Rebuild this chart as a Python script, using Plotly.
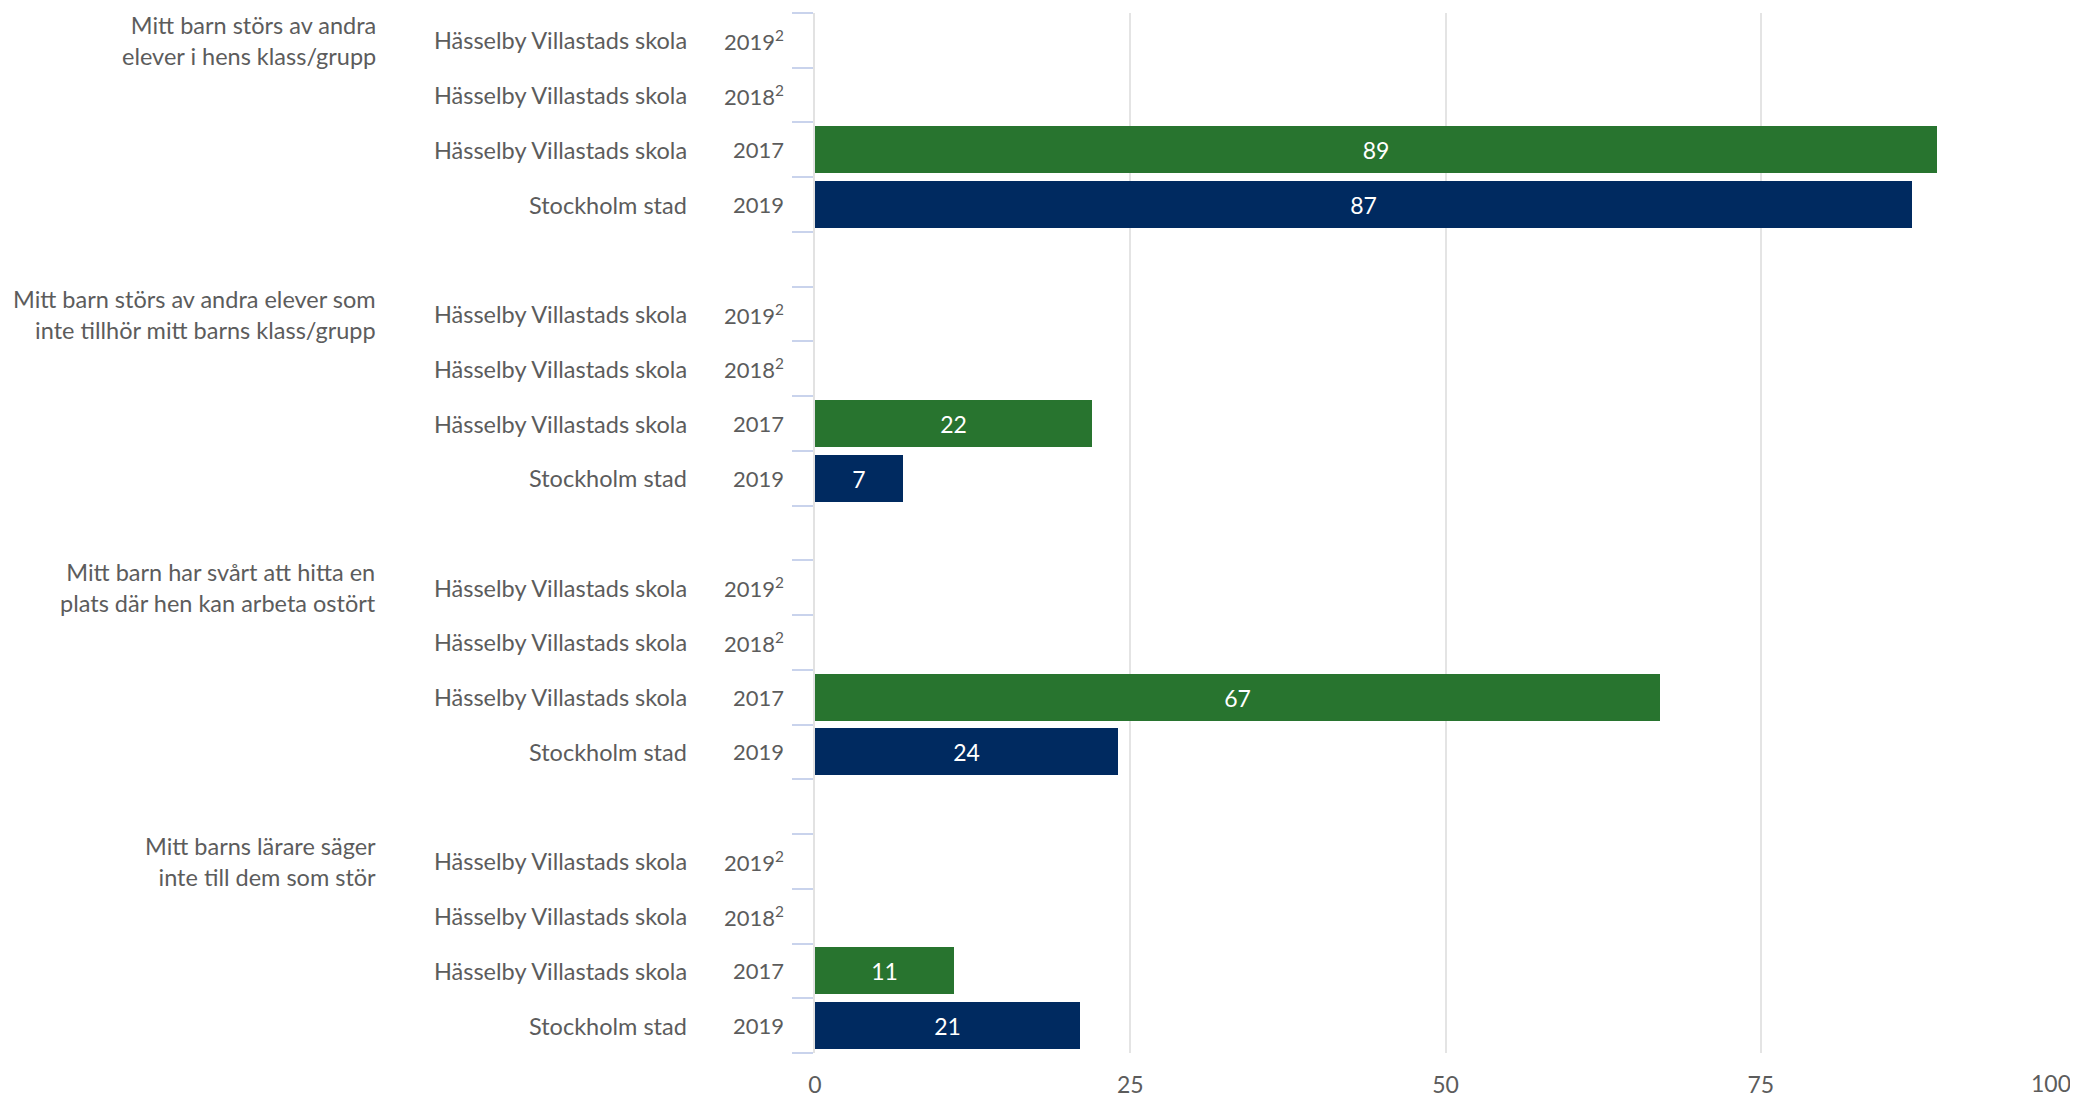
import plotly.graph_objects as go

# ---- data ----
questions = [
    "Mitt barn störs av andra<br>elever i hens klass/grupp",
    "Mitt barn störs av andra elever som<br>inte tillhör mitt barns klass/grupp",
    "Mitt barn har svårt att hitta en<br>plats där hen kan arbeta ostört",
    "Mitt barns lärare säger<br>inte till dem som stör",
]
row_names = ["Hässelby Villastads skola", "Hässelby Villastads skola",
             "Hässelby Villastads skola", "Stockholm stad"]
row_years = ["2019<sup>2</sup>", "2018<sup>2</sup>", "2017", "2019"]
hvs_2017 = [89, 22, 67, 11]
sthlm_2019 = [87, 7, 24, 21]
x_ticks = [0, 25, 50, 75, 100]

GREEN = "#28742f"
NAVY = "#002a60"
TEXT = "#5c5c5c"
FONT = "Lato"
LBL = 23.5

rows_per_group = len(row_names)
slot = rows_per_group + 1  # one blank slot between groups
n_slots = len(questions) * slot - 1

def pos(g, r):
    return g * slot + r

fig = go.Figure()
fig.add_trace(go.Bar(
    orientation="h",
    y=[pos(g, 2) for g in range(len(questions))],
    x=hvs_2017,
    marker=dict(color=GREEN, line=dict(width=0)),
    width=0.86,
    text=[str(v) for v in hvs_2017],
    textposition="inside", insidetextanchor="middle",
    textfont=dict(color="white", size=23, family=FONT),
    textangle=0, hoverinfo="skip", showlegend=False,
))
fig.add_trace(go.Bar(
    orientation="h",
    y=[pos(g, 3) for g in range(len(questions))],
    x=sthlm_2019,
    marker=dict(color=NAVY, line=dict(width=0)),
    width=0.86,
    text=[str(v) for v in sthlm_2019],
    textposition="inside", insidetextanchor="middle",
    textfont=dict(color="white", size=23, family=FONT),
    textangle=0, hoverinfo="skip", showlegend=False,
))

annotations = []
for g, q in enumerate(questions):
    annotations.append(dict(
        xref="paper", yref="y", x=0, y=pos(g, 0), xanchor="right", yanchor="middle",
        xshift=-437, text=q, showarrow=False, align="right",
        font=dict(size=LBL, color=TEXT, family=FONT),
    ))
    for r in range(rows_per_group):
        annotations.append(dict(
            xref="paper", yref="y", x=0, y=pos(g, r), xanchor="right", yanchor="middle",
            xshift=-126, text=row_names[r], showarrow=False, align="right",
            font=dict(size=LBL, color=TEXT, family=FONT),
        ))
        annotations.append(dict(
            xref="paper", yref="y", x=0, y=pos(g, r), xanchor="right", yanchor="middle",
            xshift=-29, text=row_years[r], showarrow=False, align="right",
            font=dict(size=22, color=TEXT, family=FONT),
        ))

# last x tick label is kept inside the page edge
annotations.append(dict(
    xref="x", yref="paper", x=x_ticks[-1], y=0, xanchor="right", yanchor="middle",
    xshift=-3, yshift=-30, text=str(x_ticks[-1]), showarrow=False,
    font=dict(size=23, color=TEXT, family=FONT),
))

fig.update_layout(
    width=2070, height=1091,
    margin=dict(l=807, r=2, t=5, b=46, autoexpand=False),
    paper_bgcolor="white", plot_bgcolor="white",
    bargap=0, barmode="overlay",
    annotations=annotations,
    font=dict(family=FONT, color=TEXT),
)
fig.update_xaxes(
    range=[0, 100], tickvals=x_ticks,
    ticktext=[str(v) for v in x_ticks[:-1]] + [""],
    showgrid=True, gridcolor="#e4e4e4", gridwidth=2,
    zeroline=False, showline=False,
    ticks="outside", ticklen=11, tickcolor="rgba(0,0,0,0)",
    tickfont=dict(size=23, color=TEXT, family=FONT),
    automargin=False, fixedrange=True,
)
fig.update_yaxes(
    range=[n_slots - 0.5, -0.5],
    tickvals=[i - 0.5 for i in range(n_slots + 1)],
    ticktext=["" for _ in range(n_slots + 1)],
    showticklabels=False,
    ticks="outside", ticklen=21, tickwidth=2, tickcolor="#c9d3ec",
    showgrid=False, zeroline=False,
    showline=True, linecolor="#e2e2e2", linewidth=2,
    automargin=False, fixedrange=True,
)

fig.write_html("out.html")
